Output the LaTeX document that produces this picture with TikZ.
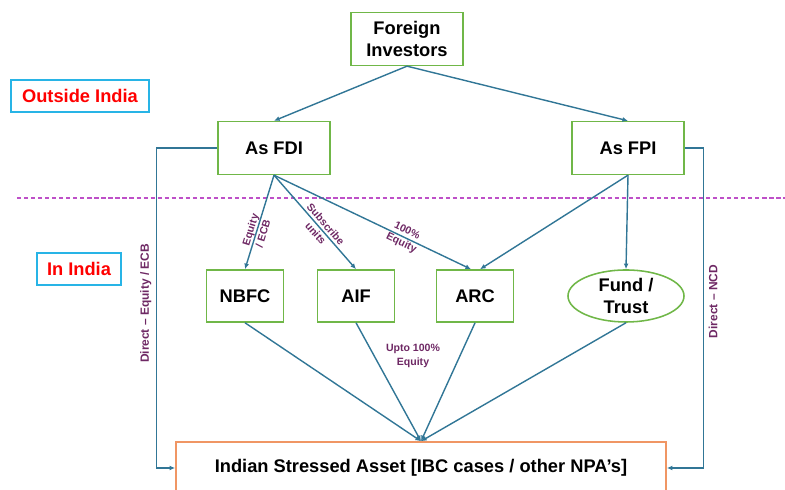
\documentclass[tikz,border=0pt]{standalone}
\usepackage{fontspec}
\setmainfont{Liberation Sans}
\usetikzlibrary{arrows.meta}
\usetikzlibrary{positioning}
\usetikzlibrary{shapes.geometric}
\usetikzlibrary{calc}

\definecolor{boxgreen}{RGB}{112,183,72}
\definecolor{linkblue}{RGB}{49,118,150}
\definecolor{notepurple}{RGB}{110,40,100}
\definecolor{zonecyan}{RGB}{40,180,230}
\definecolor{assetorange}{RGB}{240,150,100}
\definecolor{borderpink}{RGB}{190,80,200}

\tikzset{
  entity/.style={draw=boxgreen, line width=1.1pt, fill=white, align=center,
    minimum width=2.8cm, minimum height=1.32cm,
    font=\fontsize{13}{15}\selectfont\bfseries},
  smallentity/.style={entity, minimum width=1.93cm, minimum height=1.3cm},
  zone/.style={draw=zonecyan, line width=1pt, fill=white, text=red,
    minimum height=0.8cm, font=\fontsize{13}{15}\selectfont\bfseries},
  link/.style={color=linkblue, line width=1pt, -{Latex[length=4pt,width=3.5pt]}},
  note/.style={text=notepurple, align=center, inner sep=1pt,
    font=\fontsize{7.5}{9.5}\selectfont\bfseries},
  sidenote/.style={note, inner sep=3pt, font=\fontsize{8.5}{9.5}\selectfont\bfseries},
  divider/.style={draw=borderpink, line width=0.8pt, dash pattern=on 3pt off 2pt}
}

\begin{document}
\begin{tikzpicture}[x=0.025cm, y=0.025cm, on grid]
  \useasboundingbox (0,0) rectangle (785,490);
  \clip (0,0) rectangle (785,490);

  % border between the two zones
  \draw[divider] (17,292) -- (785,292);

  \node[zone, minimum width=3.45cm] (outside) at (80,394) {Outside India};
  \node[zone, minimum width=2.1cm] (inside) at (79,221) {In India};

  \node[entity] (inv) at (407,451) {Foreign\\Investors};
  \node[entity] (fdi) at (274,342) {As FDI};
  \node[entity] (fpi) at (628,342) {As FPI};

  \node[smallentity] (nbfc) at (245,194) {NBFC};
  \node[smallentity] (aif) [right=2.775cm of nbfc] {AIF};
  \node[smallentity] (arc) [right=2.975cm of aif] {ARC};
  \node[entity, ellipse, inner sep=0pt, minimum width=2.9cm, minimum height=1.3cm,
    font=\fontsize{13}{16}\selectfont\bfseries] (fund) at (626,194) {Fund /\\Trust};

  \node[entity, draw=assetorange, minimum width=12.25cm, minimum height=1.3cm]
    (asset) at (421,22) {Indian Stressed Asset [IBC cases / other NPA’s]};

  \coordinate (arcleft) at ($(arc.north)+(-4,0)$);
  \coordinate (arcright) at ($(arc.north)+(5,0)$);

  \path[link]
    (inv.south) edge (fdi.north)
    (inv.south) edge (fpi.north)
    (fdi.south) edge node[note, sloped, pos=0.6] {Equity\\/ ECB} (nbfc.north)
    (fdi.south) edge node[note, sloped, pos=0.57] {Subscribe\\units} (aif.north)
    (fdi.south) edge node[note, sloped, pos=0.66] {100\%\\Equity} (arcleft)
    (fpi.south) edge (arcright)
    (fpi.south) edge (fund.north);

  \path[link]
    (nbfc.south) edge (asset.north)
    (aif.south) edge (asset.north)
    (arc.south) edge (asset.north)
    (fund.south) edge (asset.north);

  \node[note] (upto) at (413,134) {Upto 100\%\\Equity};

  \draw[link] (fdi.west) -- ++(-61,0)
    |- node[sidenote, pos=0.243, rotate=90, anchor=south] {Direct – Equity / ECB} (asset.west);
  \draw[link] (fpi.east) -- ++(19,0)
    |- node[sidenote, pos=0.24, rotate=90, anchor=north] {Direct – NCD} (asset.east);
\end{tikzpicture}
\end{document}
